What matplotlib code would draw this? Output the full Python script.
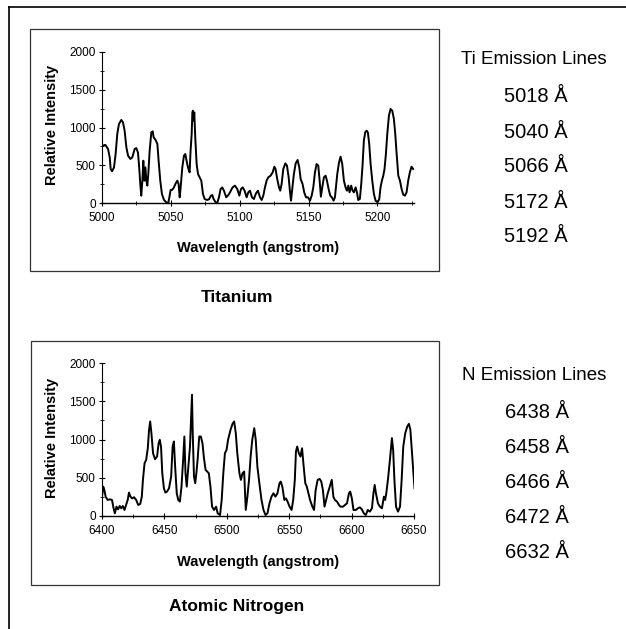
import numpy as np
import matplotlib
matplotlib.use("Agg")
import matplotlib.pyplot as plt
from matplotlib.patches import Rectangle
from matplotlib.lines import Line2D
from matplotlib.ticker import MultipleLocator

plt.rcParams['font.family'] = ['Liberation Sans', 'DejaVu Sans']

# Titanium spectrum (wavelength in angstrom, relative intensity)
ti_wl = [5000.7, 5002.4, 5004.4, 5005.6, 5006.3, 5007.3, 5008.7, 5009.9, 5011.1, 5012.3,
         5014.0, 5015.2, 5016.4, 5017.7, 5018.9, 5020.6, 5022.0, 5023.7, 5024.9, 5026.1,
         5026.9, 5027.8, 5028.5, 5029.3, 5030.0, 5030.7, 5031.5, 5032.2, 5032.9, 5033.6,
         5034.6, 5035.8, 5036.8, 5037.5, 5038.9, 5040.2, 5041.1, 5042.3, 5043.5, 5045.0,
         5046.7, 5048.1, 5048.9, 5049.8, 5050.8, 5052.0, 5053.5, 5054.7, 5055.6, 5056.4,
         5057.1, 5058.3, 5059.5, 5060.5, 5061.4, 5062.4, 5063.6, 5064.3, 5065.1, 5065.6,
         5066.0, 5066.5, 5067.0, 5067.7, 5068.7, 5069.7, 5070.9, 5072.1, 5073.3, 5074.5,
         5076.2, 5077.7, 5079.1, 5080.1, 5081.0, 5082.5, 5083.7, 5084.9, 5086.1, 5087.3,
         5088.5, 5090.2, 5091.9,
         5092.9, 5094.8, 5096.5, 5098.2, 5099.7, 5100.9, 5102.1, 5103.5, 5105.0, 5106.2,
         5107.4, 5108.9, 5110.3, 5111.8, 5113.2, 5114.7, 5115.9, 5117.1, 5118.3, 5119.5,
         5120.7, 5122.4, 5123.9, 5125.1, 5126.0, 5127.2, 5128.5, 5129.4, 5130.4, 5131.6,
         5133.1, 5134.3, 5135.5, 5136.4, 5137.2, 5138.1, 5139.3, 5140.6, 5142.0, 5143.2,
         5144.2, 5145.6, 5146.8, 5148.1, 5149.5, 5151.0, 5152.2, 5153.4, 5154.6, 5155.8,
         5157.0, 5158.0, 5158.9, 5159.9, 5161.1, 5162.3, 5163.3, 5164.5, 5165.7, 5166.9,
         5168.1, 5169.1, 5169.8, 5170.8, 5172.0, 5173.2, 5174.4, 5175.6, 5176.8, 5177.8,
         5178.8, 5179.7, 5180.9, 5181.9, 5182.9, 5184.1, 5185.1, 5186.0, 5187.2, 5188.2,
         5189.2, 5190.1, 5191.1, 5192.1, 5193.0, 5194.0, 5195.0, 5196.2, 5197.4, 5198.6,
         5200.1, 5201.3, 5202.2, 5203.2, 5204.2, 5205.1, 5206.1, 5207.1, 5208.3, 5209.5,
         5210.7, 5211.9, 5212.9, 5213.9, 5215.1, 5216.3, 5217.5, 5218.7, 5219.9, 5221.1,
         5222.3, 5223.5, 5224.7, 5225.9]
ti_int = [760, 770, 715, 605, 450, 420, 470, 650, 915, 1046,
          1100, 1070, 960, 737, 627, 583, 605, 715, 728, 670,
          495, 250, 97, 296, 560, 296, 472, 296, 230, 384,
          693, 936, 949, 870, 835, 781, 560, 296, 120, 40,
          9, 0, 75, 172, 172, 199, 260, 296, 252, 75,
          207, 472, 627, 649, 560, 472, 406, 693, 914, 1200,
          1223, 1090, 1200, 870, 516, 384, 340, 296, 120, 53,
          40, 49, 97, 106, 53, 9, 4, 75, 185, 207,
          163, 75, 110,
          141, 207, 230, 185, 97, 185, 207, 163, 75, 141,
          163, 75, 53, 128, 163, 75, 40, 97, 207, 296,
          340, 362, 406, 481, 450, 318, 207, 163, 252, 450,
          525, 494, 340, 163, 31, 185, 384, 525, 570, 472,
          318, 252, 141, 75, 75, 31, 97, 207, 406, 516,
          494, 296, 84, 207, 340, 362, 296, 185, 97, 75,
          31, 75, 207, 384, 530, 614, 516, 296, 207, 163,
          230, 141, 230, 163, 141, 207, 141, 40, 53, 252,
          516, 826, 936, 958, 936, 781, 516, 296, 119, 31,
          9, 53, 207, 296, 362, 450, 649, 914, 1157, 1245,
          1223, 1113, 914, 649, 362, 296, 185, 110, 97, 141,
          296, 406, 481, 450]

# Atomic nitrogen spectrum
n_wl = [6400.0, 6401.0, 6401.9, 6402.9, 6404.5, 6406.4, 6408.0, 6409.3, 6410.3, 6411.6,
        6412.9, 6414.2, 6415.4, 6416.7, 6418.0, 6419.3, 6420.6, 6421.6, 6422.8, 6424.1,
        6425.7, 6427.4, 6429.0, 6430.6, 6431.9, 6432.8, 6434.1, 6435.4, 6436.7, 6437.7,
        6438.6, 6439.6, 6440.9, 6442.5, 6444.1, 6445.4, 6446.3, 6447.3, 6448.3, 6449.6,
        6450.8, 6452.1, 6453.7, 6455.4, 6456.6, 6457.6, 6458.6, 6459.9, 6461.1, 6462.4,
        6463.7, 6465.0, 6466.0, 6466.9, 6467.9, 6469.2, 6470.5, 6471.4, 6472.1, 6472.7,
        6473.7, 6474.7, 6475.6, 6476.6, 6477.9, 6479.2, 6480.5, 6481.7, 6483.0, 6484.3,
        6485.6, 6486.9, 6488.2, 6489.8, 6491.4, 6492.7, 6494.6, 6495.9, 6497.2, 6498.5,
        6499.8, 6501.0, 6503.0, 6504.6, 6505.9, 6507.2, 6508.4, 6510.1, 6511.3, 6512.6,
        6513.9, 6515.2, 6516.5, 6517.8, 6519.1, 6520.4, 6522.0, 6523.2, 6524.5, 6526.1,
        6527.8, 6529.4, 6531.0, 6532.6, 6534.2, 6535.8, 6537.4, 6539.0, 6540.6, 6542.2,
        6543.2, 6544.5, 6546.1, 6547.4, 6548.7, 6550.3, 6551.9, 6553.2, 6554.5, 6555.4,
        6556.4, 6557.7, 6559.0, 6560.3, 6561.6, 6562.9, 6564.1, 6565.4, 6566.7, 6568.6,
        6569.9, 6571.2, 6572.8, 6574.4, 6575.7, 6577.0, 6578.3, 6579.6, 6580.9, 6582.5,
        6584.1, 6585.4, 6586.6, 6588.3, 6589.9, 6591.1, 6593.1, 6594.7, 6596.3, 6597.9,
        6598.9, 6600.2, 6601.5, 6603.4, 6605.0, 6606.6, 6608.2, 6609.8, 6611.4, 6613.0,
        6614.6, 6616.3, 6617.5, 6618.5, 6619.5, 6621.1, 6622.7, 6624.3, 6625.9, 6626.9,
        6627.8, 6629.1, 6630.7, 6632.3, 6633.3, 6634.3, 6635.6, 6637.2, 6638.8, 6640.1,
        6641.4, 6643.0, 6644.6, 6645.9, 6647.1, 6648.4, 6649.7, 6650.4]
n_int = [253, 384, 340, 253, 210, 218, 210, 100, 35, 122,
         87, 131, 100, 131, 79, 144, 210, 306, 253, 231,
         245, 210, 144, 157, 253, 472, 690, 734, 886, 1127,
         1236, 1083, 821, 742, 777, 952, 996, 908, 559, 362,
         306, 319, 362, 515, 908, 974, 646, 297, 210, 188,
         384, 734, 1039, 559, 384, 646, 908, 1301, 1585, 1083,
         515, 428, 559, 734, 1039, 1039, 952, 755, 603, 581,
         559, 384, 122, 79, 122, 35, 13, 210, 559, 821,
         864, 996, 1127, 1205, 1236, 1083, 821, 559, 472, 559,
         581, 79, 253, 472, 777, 996, 1149, 996, 646, 428,
         210, 79, 13, 35, 166, 253, 297, 253, 297, 428,
         450, 384, 210, 231, 188, 122, 79, 210, 472, 843,
         908, 821, 777, 886, 646, 428, 384, 297, 210, 122,
         79, 340, 472, 485, 450, 340, 122, 210, 297, 384,
         472, 253, 210, 188, 144, 122, 122, 144, 166, 297,
         319, 231, 79, 79, 100, 113, 87, 35, 13, 79,
         57, 100, 297, 406, 297, 166, 122, 100, 253, 210,
         297, 472, 734, 1018, 864, 472, 122, 57, 122, 472,
         908, 1083, 1170, 1205, 1127, 821, 515, 362]

ti_lines = ["5018 Å", "5040 Å", "5066 Å", "5172 Å", "5192 Å"]
n_lines = ["6438 Å", "6458 Å", "6466 Å", "6472 Å", "6632 Å"]

W, H = 626, 629
fig = plt.figure(figsize=(W / 100, H / 100), dpi=100)


def fx(px):
    return px / W


def fy(py):
    return 1 - py / H


def spectrum(ax, wl, inten, xmin, xmax):
    ax.plot(wl, inten, color='black', lw=1.4)
    ax.set_xlim(xmin, xmax)
    ax.set_ylim(0, 2000)
    ax.spines['top'].set_visible(False)
    ax.spines['right'].set_visible(False)
    ax.spines['left'].set_linewidth(0.8)
    ax.spines['bottom'].set_linewidth(1.0)
    ax.xaxis.set_major_locator(MultipleLocator(50))
    ax.xaxis.set_minor_locator(MultipleLocator(25))
    ax.yaxis.set_major_locator(MultipleLocator(500))
    ax.yaxis.set_minor_locator(MultipleLocator(250))
    ax.tick_params(which='major', direction='inout', length=5, width=0.8,
                   labelsize=8.5, pad=2)
    ax.tick_params(which='minor', direction='inout', length=3, width=0.6)
    ax.tick_params(axis='x', pad=4)
    ax.patch.set_alpha(0)


# top panel
ax1 = fig.add_axes([fx(102), fy(203), fx(414) - fx(102), fy(52) - fy(203)])
spectrum(ax1, ti_wl, ti_int, 5000, 5226.5)
fig.add_artist(Rectangle((fx(30), fy(271)), fx(439) - fx(30), fy(29) - fy(271),
                         transform=fig.transFigure, fill=False, lw=0.9, ec='#333333'))
fig.text(fx(52), fy(125), "Relative Intensity", rotation=90, ha='center', va='center',
         fontsize=10.5, fontweight='bold')
fig.text(fx(258), fy(248), "Wavelength (angstrom)", ha='center', va='center',
         fontsize=10.5, fontweight='bold')
fig.text(fx(237), fy(298), "Titanium", ha='center', va='center',
         fontsize=12.5, fontweight='bold')

# bottom panel
ax2 = fig.add_axes([fx(102), fy(516), fx(414) - fx(102), fy(363) - fy(516)])
spectrum(ax2, n_wl, n_int, 6400, 6650)
fig.add_artist(Rectangle((fx(31), fy(585)), fx(439) - fx(31), fy(341) - fy(585),
                         transform=fig.transFigure, fill=False, lw=0.9, ec='#333333'))
fig.text(fx(52), fy(438), "Relative Intensity", rotation=90, ha='center', va='center',
         fontsize=10.5, fontweight='bold')
fig.text(fx(258), fy(562), "Wavelength (angstrom)", ha='center', va='center',
         fontsize=10.5, fontweight='bold')
fig.text(fx(237), fy(607), "Atomic Nitrogen", ha='center', va='center',
         fontsize=12.5, fontweight='bold')

# emission line lists
fig.text(fx(534), fy(60), "Ti Emission Lines", ha='center', va='center', fontsize=13.5)
for i, s in enumerate(ti_lines):
    fig.text(fx(536), fy(97 + 35 * i), s, ha='center', va='center', fontsize=14.5)

fig.text(fx(534), fy(375), "N Emission Lines", ha='center', va='center', fontsize=13.5)
for i, s in enumerate(n_lines):
    fig.text(fx(537), fy(412 + 35.2 * i), s, ha='center', va='center', fontsize=14.5)

# outer frame (left and top edges)
fig.add_artist(Line2D([fx(9), fx(9)], [0, fy(7)], transform=fig.transFigure,
                      color='black', lw=1.2))
fig.add_artist(Line2D([fx(9), 1], [fy(7), fy(7)], transform=fig.transFigure,
                      color='black', lw=1.2))

fig.savefig("out.png", dpi=100)
